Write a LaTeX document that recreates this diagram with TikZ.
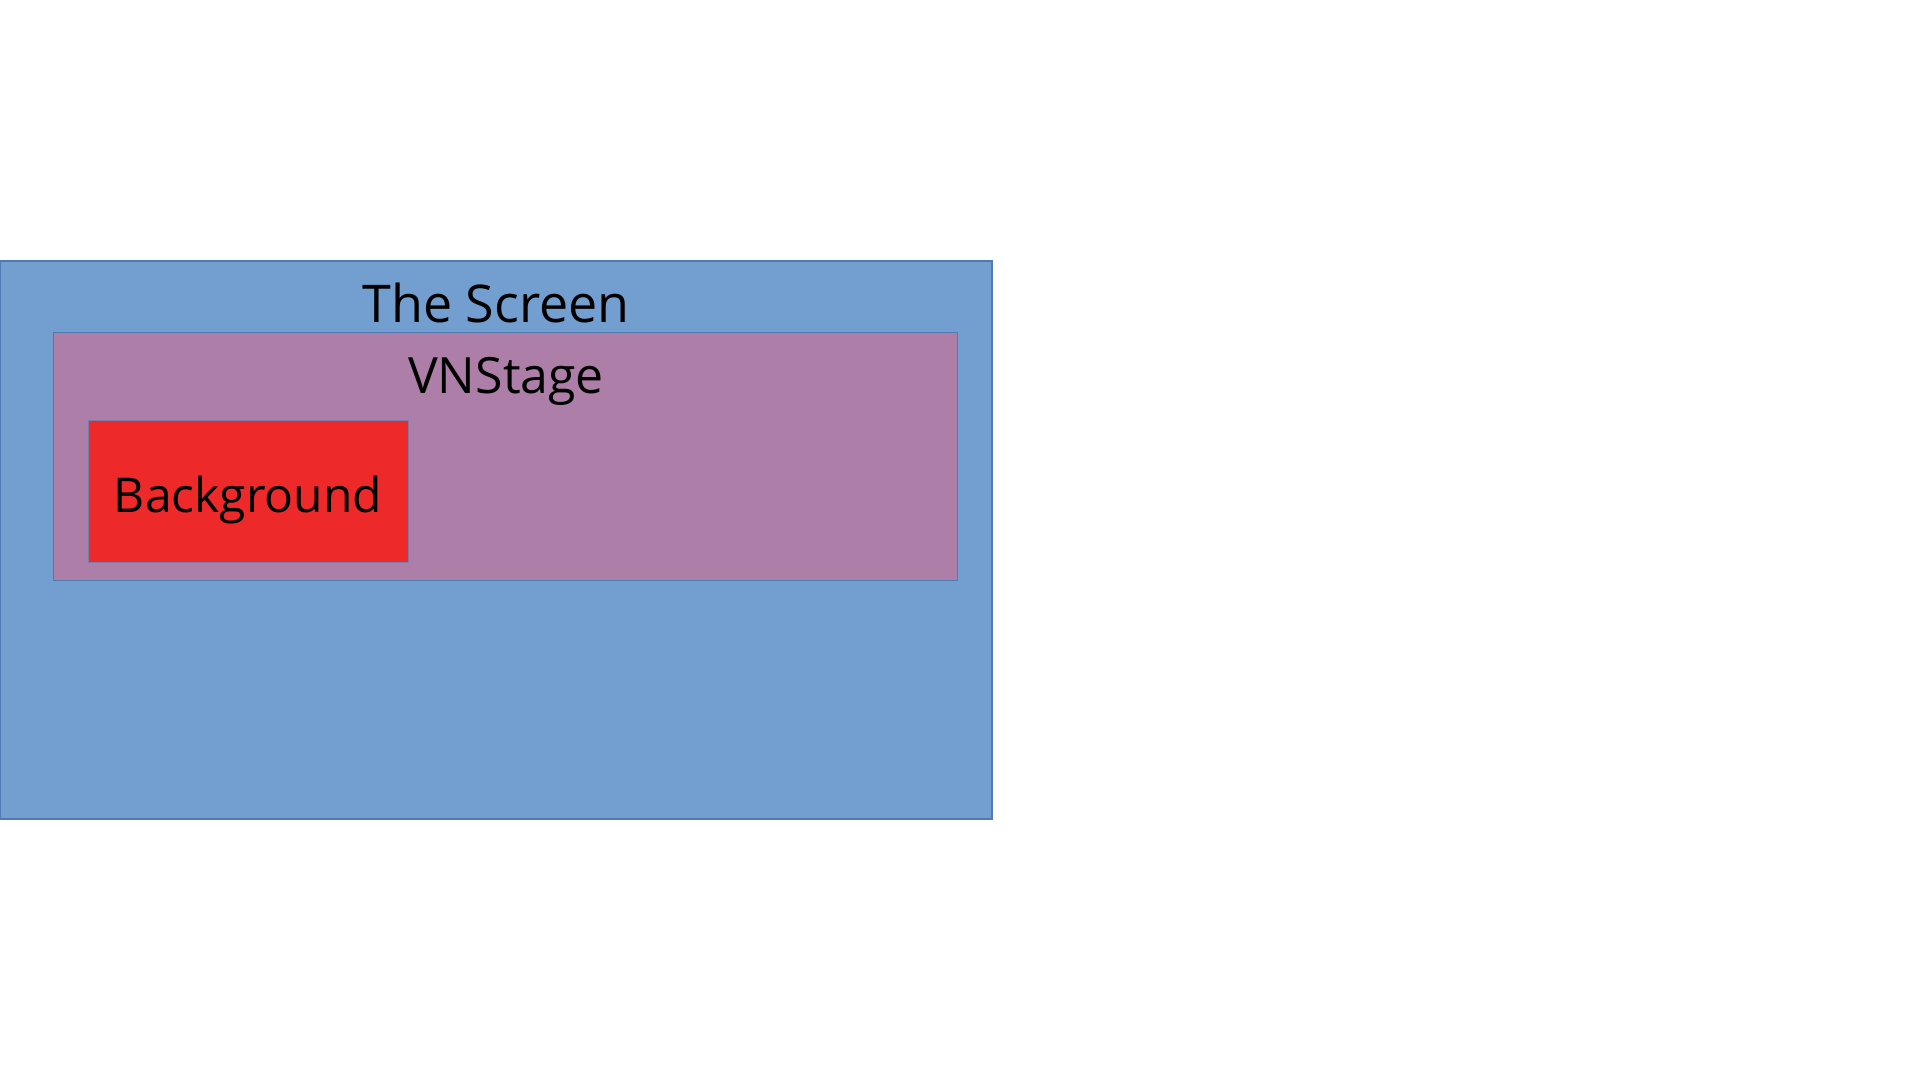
\documentclass[tikz,border=0pt]{standalone}
\usepackage{fontspec}
\setmainfont{Open Sans}
\definecolor{scrfill}{RGB}{114,159,207}
\definecolor{scrline}{RGB}{80,122,178}
\definecolor{stgfill}{RGB}{173,126,168}
\definecolor{bgfill}{RGB}{238,41,41}
\tikzset{
  box/.style={draw=scrline, line width=1.2pt},
  lbl/.style={anchor=base, inner sep=0pt, font=\fontsize{50}{60}\selectfont, text=black},
}
\begin{document}
\begin{tikzpicture}[x=1pt,y=-1pt]
\useasboundingbox (0,0) rectangle (1920,1080);
\fill[white] (0,0) rectangle (1920,1080);
\draw[box, fill=scrfill] (0.6,261) rectangle (992,819);
\draw[box, fill=stgfill, line width=0.9pt] (53,332) rectangle (957,580);
\draw[box, fill=bgfill, draw=stgfill!50!scrline, line width=0.9pt] (88,420) rectangle (408,562);
\node[lbl, font=\fontsize{52}{60}\selectfont] (screen) at (496,322) {The Screen};
\node[lbl] (stage) at (506,393) {VNStage};
\node[lbl, font=\fontsize{48}{60}\selectfont] (bg) at (248,512) {Background};
\end{tikzpicture}
\end{document}
